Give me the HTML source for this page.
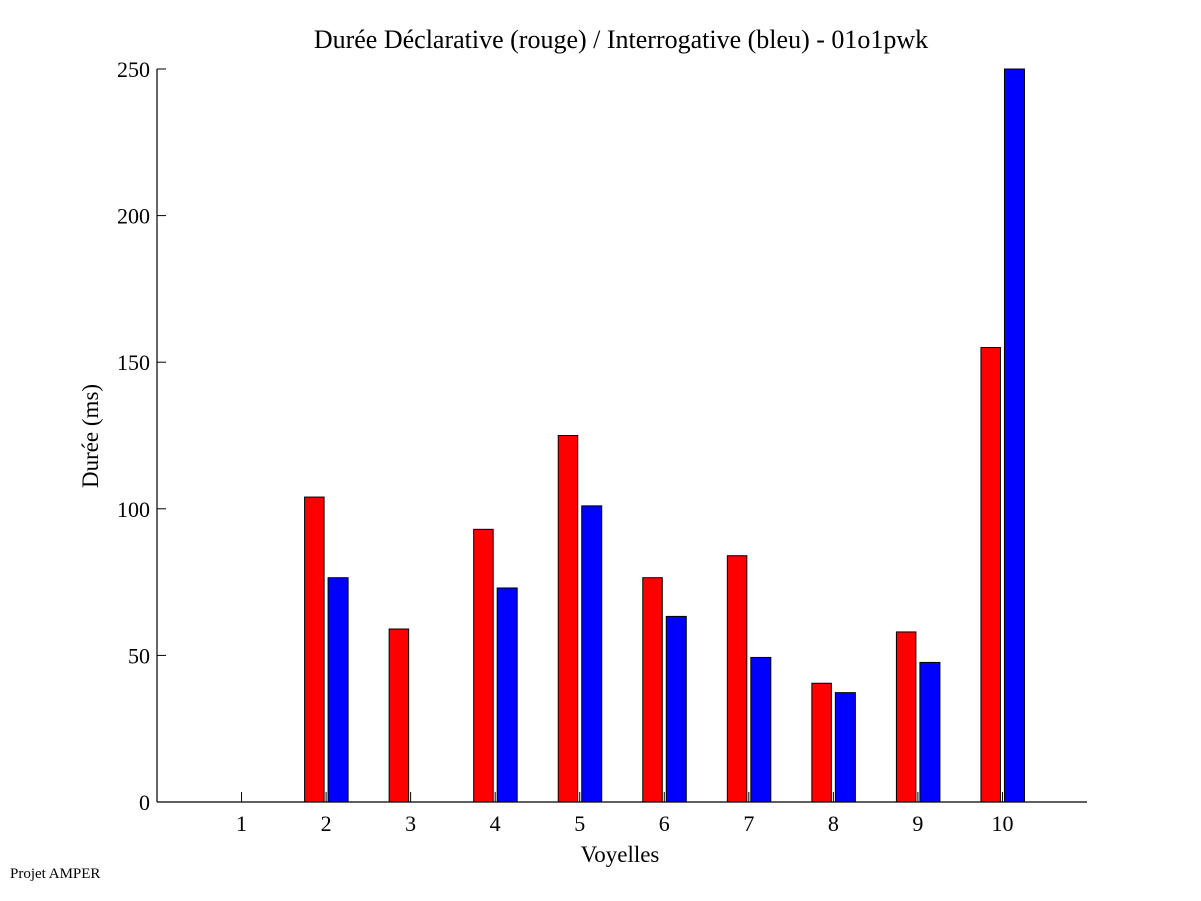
<!DOCTYPE html>
<html><head><meta charset="utf-8"><style>
body{margin:0;background:#fff;}
svg{display:block;font-family:"Liberation Serif",serif;}
</style></head><body>
<svg id="chart" width="1201" height="901" viewBox="0 0 1201 901">
<rect width="1201" height="901" fill="#fff"/>
<text x="621" y="48" font-size="26" text-anchor="middle">Durée Déclarative (rouge) / Interrogative (bleu) - 01o1pwk</text>
<text x="620" y="862" font-size="23" text-anchor="middle">Voyelles</text>
<text transform="translate(98,436) rotate(-90)" font-size="23" text-anchor="middle">Durée (ms)</text>
<text x="10" y="878" font-size="15">Projet AMPER</text>
<g id="bars"></g>
<g id="axes"></g>
</svg>
<script>
const categories=["1","2","3","4","5","6","7","8","9","10"];
const redValues=[0,104,59,93,125,76.5,84,40.5,58,155];
const blueValues=[0,76.5,0,73,101,63.3,49.3,37.3,47.6,250];
const yTicks=[0,50,100,150,200,250];
const X0=157,X1=1087,Y0=802,Y1=69,YMAX=250,XMAX=11;
const xs=i=>X0+(i+1)*(X1-X0)/XMAX;
const ys=v=>Y0-Math.min(v,YMAX)/YMAX*(Y0-Y1);
const NS="http://www.w3.org/2000/svg";
const bars=document.getElementById('bars'),axes=document.getElementById('axes');
function mk(tag,attrs,parent){const e=document.createElementNS(NS,tag);for(const k in attrs)e.setAttribute(k,attrs[k]);parent.appendChild(e);return e;}
categories.forEach((c,i)=>{
  const cx=xs(i);
  if(redValues[i]>0){const r=mk('rect',{x:cx-21.5,y:ys(redValues[i]),width:19.5,height:Y0-ys(redValues[i]),fill:'#ff0000',stroke:'#000','stroke-width':1},bars);
  
  }
  if(blueValues[i]>0){const b=mk('rect',{x:cx+2,y:ys(blueValues[i]),width:20,height:Y0-ys(blueValues[i]),fill:'#0000ff',stroke:'#000','stroke-width':1},bars);
  
  }
  const t=mk('line',{x1:cx,x2:cx,y1:Y0,y2:Y0-10,stroke:'#000'},axes);
  
  
  const l=mk('text',{x:cx,y:831,'font-size':22,'text-anchor':'middle'},axes);l.textContent=c;
  
  
});
yTicks.forEach(v=>{
  const y=ys(v);
  const t=mk('line',{x1:X0,x2:X0+9,y1:y,y2:y,stroke:'#000'},axes);
  
  
  const l=mk('text',{x:X0-7,y:y+8,'font-size':22,'text-anchor':'end'},axes);l.textContent=v;
  
  
});
const xa=mk('line',{x1:X0,x2:X1,y1:Y0,y2:Y0,stroke:'#000','stroke-width':1.2},axes);


const ya=mk('line',{x1:X0,x2:X0,y1:Y1,y2:Y0,stroke:'#000','stroke-width':1.2},axes);


</script>
</body></html>
